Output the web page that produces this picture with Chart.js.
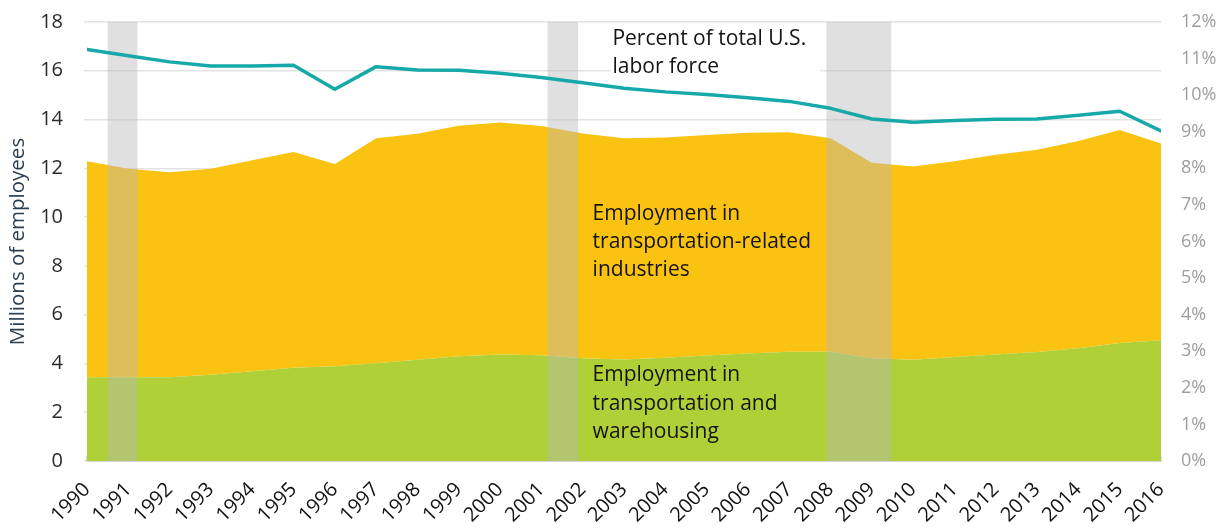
<!DOCTYPE html>
<html>
<head>
<meta charset="utf-8">
<script src="https://cdn.jsdelivr.net/npm/chart.js@4.4.1/dist/chart.umd.min.js"></script>
<style>
  html, body { margin: 0; padding: 0; background: #ffffff; }
  #wrap { position: relative; width: 1226px; height: 529px; }
</style>
</head>
<body>
<div id="wrap"><canvas id="c"></canvas></div>
<script>
// ---- Data ----
const years = [1990,1991,1992,1993,1994,1995,1996,1997,1998,1999,2000,2001,2002,2003,2004,2005,2006,2007,2008,2009,2010,2011,2012,2013,2014,2015,2016];
// Employment in transportation and warehousing (millions)
const transWarehousing = [3.43,3.43,3.43,3.54,3.68,3.82,3.89,4.01,4.15,4.30,4.37,4.34,4.21,4.16,4.23,4.33,4.41,4.48,4.48,4.21,4.15,4.26,4.37,4.47,4.62,4.84,4.95];
// Total employment incl. transportation-related industries (millions)
const totalEmployment = [12.29,11.98,11.84,11.98,12.33,12.67,12.18,13.23,13.42,13.75,13.88,13.74,13.43,13.23,13.26,13.37,13.46,13.48,13.23,12.23,12.08,12.29,12.56,12.76,13.12,13.57,13.02];
// Transportation-related industries (stacked on top) = total - T&W
const transRelated = totalEmployment.map((t, i) => +(t - transWarehousing[i]).toFixed(2));
// Percent of total U.S. labor force
const pctLaborForce = [11.25,11.08,10.91,10.80,10.80,10.82,10.16,10.78,10.69,10.68,10.60,10.48,10.34,10.19,10.09,10.02,9.93,9.83,9.64,9.35,9.26,9.31,9.34,9.35,9.45,9.56,9.02];
// Recession periods (fractional years)
const recessionStart = [1990.5, 2001.15, 2007.9];
const recessionEnd   = [1991.22, 2001.89, 2009.47];
// Axis ticks
const leftTicks = [0,2,4,6,8,10,12,14,16,18];
const rightTicks = [0,1,2,3,4,5,6,7,8,9,10,11,12];

const FONT = "'Open Sans', 'Noto Sans', sans-serif";
const COL_GREEN = 'rgb(175,209,55)';
const COL_ORANGE = 'rgb(251,195,17)';
const COL_TEAL = 'rgb(23,169,169)';

const toXY = arr => arr.map((v, i) => ({ x: years[i], y: v }));

// recession bands drawn over the areas, under the line
const recessionPlugin = {
  id: 'recessions',
  afterDatasetDraw(chart, args) {
    if (args.index !== 1) return;
    const { ctx, chartArea } = chart;
    const xs = chart.scales.x;
    ctx.save();
    ctx.fillStyle = 'rgba(185,185,185,0.44)';
    recessionStart.forEach((s, i) => {
      const x1 = xs.getPixelForValue(s);
      const x2 = xs.getPixelForValue(recessionEnd[i]);
      ctx.fillRect(x1, chartArea.top, x2 - x1, chartArea.bottom - chartArea.top);
    });
    ctx.restore();
  }
};

// text annotations
const annoText = [
  ['Percent of total U.S.', 'labor force'],
  ['Employment in', 'transportation-related', 'industries'],
  ['Employment in', 'transportation and', 'warehousing']
];
const annoYear = [2002.72, 2002.24, 2002.24];
const annoValue = [17.07, 9.9, 3.27];   // baseline of first line, left-axis units

const annotationPlugin = {
  id: 'annotations',
  afterDatasetsDraw(chart) {
    const { ctx, chartArea } = chart;
    const xs = chart.scales.x, ys = chart.scales.y;
    ctx.save();
    // white box behind the line label
    const bx = xs.getPixelForValue(annoYear[0]) - 1;
    ctx.fillStyle = '#ffffff';
    ctx.fillRect(bx, chartArea.top + 1.5, 209, 56);
    ctx.font = '21px ' + FONT;
    ctx.fillStyle = '#141414';
    ctx.textAlign = 'left';
    ctx.textBaseline = 'alphabetic';
    annoText.forEach((lines, k) => {
      const x = xs.getPixelForValue(annoYear[k]);
      const y0 = ys.getPixelForValue(annoValue[k]);
      lines.forEach((t, j) => ctx.fillText(t, x, y0 + j * 28.4));
    });
    ctx.restore();
  }
};

const noVPad = s => { s.paddingTop = 0; s.paddingBottom = 0; };

new Chart(document.getElementById('c'), {
  type: 'line',
  data: {
    datasets: [
      {
        label: 'Percent of total U.S. labor force',
        data: toXY(pctLaborForce),
        yAxisID: 'y2',
        borderColor: COL_TEAL,
        borderWidth: 3.5,
        borderJoinStyle: 'round',
        borderCapStyle: 'round',
        pointRadius: 0,
        fill: false,
        tension: 0,
        order: 0
      },
      {
        label: 'Employment in transportation and warehousing',
        data: toXY(transWarehousing),
        yAxisID: 'y',
        backgroundColor: COL_GREEN,
        borderWidth: 0,
        pointRadius: 0,
        fill: 'origin',
        tension: 0,
        order: 1
      },
      {
        label: 'Employment in transportation-related industries',
        data: toXY(transRelated),
        yAxisID: 'y',
        backgroundColor: COL_ORANGE,
        borderWidth: 0,
        pointRadius: 0,
        fill: '-1',
        tension: 0,
        order: 2
      }
    ]
  },
  options: {
    responsive: true,
    maintainAspectRatio: false,
    animation: false,
    layout: { padding: { top: 22, left: 0, right: 0, bottom: 0 } },
    plugins: { legend: { display: false }, tooltip: { enabled: false } },
    scales: {
      x: {
        type: 'linear',
        min: years[0],
        max: years[years.length - 1],
        z: 1,
        afterBuildTicks: s => { s.ticks = years.map(v => ({ value: v })); },
        afterFit: s => { s.height = 68; },
        ticks: {
          autoSkip: false,
          minRotation: 45,
          maxRotation: 45,
          padding: 22,
          color: '#111111',
          font: { family: FONT, size: 20 },
          callback: v => String(v)
        },
        grid: {
          display: true,
          drawOnChartArea: false,
          drawTicks: true,
          tickLength: -5,
          color: '#d3d3d3',
          lineWidth: 1.5
        },
        border: { display: true, color: '#d6d6d6', width: 2 }
      },
      y: {
        type: 'linear',
        position: 'left',
        stacked: true,
        min: 0,
        max: 18,
        afterBuildTicks: s => { s.ticks = leftTicks.map(v => ({ value: v })); },
        afterFit: s => { s.width = 87; noVPad(s); },
        ticks: {
          padding: 21,
          color: '#2a2a2a',
          font: { family: FONT, size: 20 }
        },
        grid: { color: '#e3e3e3', lineWidth: 1.5, tickLength: 3 },
        border: { display: false },
        title: {
          display: true,
          text: 'Millions of employees',
          color: '#2c3e50',
          font: { family: FONT, size: 20.5 },
          padding: { top: 6, bottom: 0 }
        }
      },
      y2: {
        type: 'linear',
        position: 'right',
        min: 0,
        max: 12,
        afterBuildTicks: s => { s.ticks = rightTicks.map(v => ({ value: v })); },
        afterFit: s => { s.width = 65; noVPad(s); },
        ticks: {
          padding: 20,
          color: '#9e9e9e',
          font: { family: FONT, size: 18 },
          callback: v => v + '%'
        },
        grid: { drawOnChartArea: false, drawTicks: false },
        border: { display: false }
      }
    }
  },
  plugins: [recessionPlugin, annotationPlugin]
});
</script>
</body>
</html>
